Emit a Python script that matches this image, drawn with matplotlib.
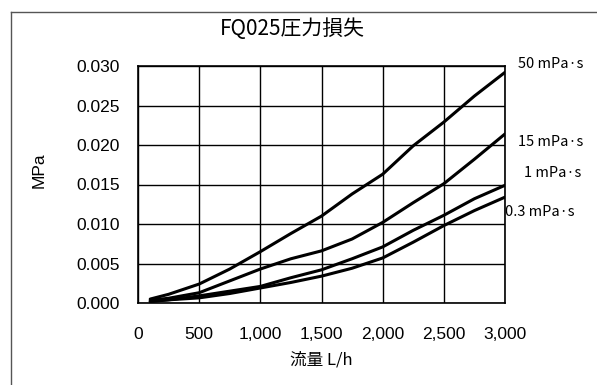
import matplotlib
matplotlib.use("Agg")
import matplotlib.pyplot as plt
from matplotlib.lines import Line2D
from matplotlib.ticker import FuncFormatter, MultipleLocator

flow = [100, 250, 500, 750, 1000, 1250, 1500, 1750, 2000, 2250, 2500, 2750, 3000]
p_50 = [0.0005, 0.0011, 0.0024, 0.0043, 0.0065, 0.0088, 0.0110, 0.0138, 0.0163, 0.0199, 0.0229, 0.0262, 0.0292]
p_15 = [0.00035, 0.0006, 0.0013, 0.0028, 0.0043, 0.0056, 0.0066, 0.0081, 0.0102, 0.0127, 0.0151, 0.0182, 0.0214]
p_1 = [0.0002, 0.0004, 0.0009, 0.0015, 0.0021, 0.0032, 0.0042, 0.0056, 0.0071, 0.0092, 0.0111, 0.0132, 0.0149]
p_03 = [0.0002, 0.0004, 0.00065, 0.0012, 0.0019, 0.0026, 0.0034, 0.0044, 0.0057, 0.0077, 0.0098, 0.0117, 0.0134]
series = [p_50, p_15, p_1, p_03]
labels = ["50 mPa·s", "15 mPa·s", "1 mPa·s", "0.3 mPa·s"]
label_y = [0.0302, 0.0204, 0.01646, 0.01152]
label_dx = [9, 9, 14, 0]

title = "FQ025圧力損失"
xlabel = "流量 L/h"
ylabel = "MPa"

cjk = ["Noto Sans CJK JP", "DejaVu Sans"]
num = ["Liberation Sans", "DejaVu Sans"]

fig = plt.figure(figsize=(5.97, 3.85), dpi=100)
ax = fig.add_axes([138/597, 1-303/385, (505-138)/597, (303-66)/385])

for s in series:
    ax.plot(flow, s, color="black", lw=2.2, solid_joinstyle="round", solid_capstyle="round")

ax.set_xlim(0, 3000)
ax.set_ylim(0, 0.030)
ax.xaxis.set_major_locator(MultipleLocator(500))
ax.yaxis.set_major_locator(MultipleLocator(0.005))
ax.xaxis.set_major_formatter(FuncFormatter(lambda v, p: f"{int(v):,}"))
ax.yaxis.set_major_formatter(FuncFormatter(lambda v, p: f"{v:.3f}"))
ax.grid(True, color="black", lw=1.0)
ax.set_axisbelow(True)
for sp in ax.spines.values():
    sp.set_color("black")
    sp.set_linewidth(1.2)
ax.tick_params(length=0)
ax.tick_params(axis="y", pad=13)
ax.tick_params(axis="x", pad=17)
for t in ax.get_xticklabels() + ax.get_yticklabels():
    t.set_fontfamily(num)
    t.set_fontsize(12.5)

ax.set_xlabel(xlabel, family=cjk, fontsize=12)
ax.xaxis.set_label_coords(0.5, -0.205)
ax.set_ylabel(ylabel, family=num, fontsize=12.5)
ax.yaxis.set_label_coords(-0.25, 0.56)

for lab, y, dx in zip(labels, label_y, label_dx):
    ax.annotate(lab, xy=(3000, y), xytext=(dx, 0), textcoords="offset points",
                ha="left", va="center", family=cjk, fontsize=10.5,
                annotation_clip=False)

fig.text(292/597, 1-29/385, title, family=cjk, fontsize=15, ha="center", va="center")

fig.add_artist(Line2D([11/597, 11/597], [0, 1-12/385], transform=fig.transFigure, color="#555555", lw=1.0))
fig.add_artist(Line2D([11/597, 1], [1-12/385, 1-12/385], transform=fig.transFigure, color="#555555", lw=1.0))

fig.savefig("out.png", dpi=100)
